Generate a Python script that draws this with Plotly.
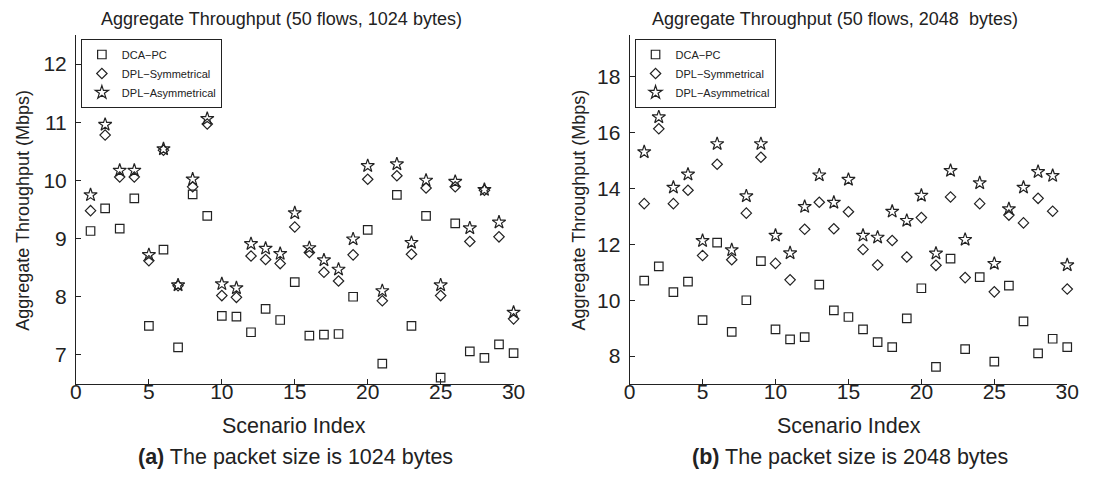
import plotly.graph_objects as go

scenarios = list(range(1, 31))

# (a) 1024 bytes
dca_1024 = [9.13, 9.52, 9.17, 9.69, 7.50, 8.81, 7.13, 9.76, 9.39, 7.67,
            7.66, 7.39, 7.79, 7.60, 8.25, 7.33, 7.35, 7.36, 8.00, 9.15,
            6.85, 9.75, 7.50, 9.39, 6.61, 9.26, 7.06, 6.95, 7.18, 7.03]
sym_1024 = [9.48, 10.78, 10.06, 10.06, 8.62, 10.52, 8.19, 9.89, 10.97, 8.02,
            7.99, 8.70, 8.64, 8.57, 9.20, 8.76, 8.42, 8.27, 8.72, 10.02,
            7.93, 10.08, 8.73, 9.87, 8.02, 9.89, 8.95, 9.83, 9.03, 7.62]
asym_1024 = [9.75, 10.96, 10.17, 10.17, 8.72, 10.54, 8.20, 10.02, 11.06, 8.22,
             8.15, 8.91, 8.83, 8.74, 9.44, 8.84, 8.63, 8.47, 8.99, 10.25,
             8.10, 10.28, 8.93, 10.00, 8.20, 9.98, 9.18, 9.84, 9.28, 7.73]

# (b) 2048 bytes
dca_2048 = [10.70, 11.21, 10.29, 10.67, 9.29, 12.06, 8.87, 10.00, 11.40, 8.96,
            8.60, 8.68, 10.56, 9.64, 9.40, 8.96, 8.50, 8.32, 9.35, 10.43,
            7.61, 11.49, 8.25, 10.83, 7.80, 10.52, 9.24, 8.10, 8.62, 8.32]
sym_2048 = [13.46, 16.14, 13.46, 13.94, 11.60, 14.87, 11.45, 13.12, 15.12, 11.32,
            10.73, 12.54, 13.51, 12.56, 13.17, 11.82, 11.26, 12.14, 11.55, 12.96,
            11.25, 13.70, 10.81, 13.46, 10.30, 13.05, 12.77, 13.65, 13.19, 10.40]
asym_2048 = [15.31, 16.56, 14.04, 14.51, 12.13, 15.60, 11.80, 13.73, 15.60, 12.32,
             11.69, 13.35, 14.48, 13.50, 14.32, 12.32, 12.25, 13.18, 12.85, 13.75,
             11.68, 14.64, 12.17, 14.20, 11.31, 13.27, 14.04, 14.60, 14.46, 11.26]

series_names = ["DCA\u2212PC", "DPL\u2212Symmetrical", "DPL\u2212Asymmetrical"]
titles = ["Aggregate Throughput (50 flows, 1024 bytes)",
          "Aggregate Throughput (50 flows, 2048  bytes)"]
captions = ["<b>(a)</b> The packet size is 1024 bytes",
            "<b>(b)</b> The packet size is 2048 bytes"]

INK = "#222222"
FONT = "Liberation Sans, Arial, sans-serif"
OFF = 8                      # default page body margin
W, H = 1094 - OFF, 479 - OFF
symbols = ["square-open", "diamond-open", "star-open"]
sizes = [8.5, 8, 10]

fig = go.Figure()
panels = [
    ([dca_1024, sym_1024, asym_1024], "x", "y", "legend"),
    ([dca_2048, sym_2048, asym_2048], "x2", "y2", "legend2"),
]
for vals, xa, ya, lg in panels:
    for name, v, sym, sz in zip(series_names, vals, symbols, sizes):
        fig.add_trace(go.Scatter(
            x=scenarios, y=v, mode="markers", name=name,
            xaxis=xa, yaxis=ya, legend=lg, cliponaxis=False,
            marker=dict(symbol=sym, size=sz, color=INK,
                        line=dict(color=INK, width=1.2)),
        ))


def px_x(p):
    return (p - OFF) / W


def px_y(p):
    return 1 - (p - OFF) / H


axis_common = dict(showgrid=False, zeroline=False, showline=True,
                   linecolor=INK, linewidth=1, ticks="inside", ticklen=5,
                   tickcolor=INK, tickfont=dict(size=21, color=INK, family=FONT),
                   mirror=False)

dom_y = [px_y(384), px_y(35)]
legend_common = dict(xanchor="left", yanchor="top", bgcolor="white",
                     bordercolor=INK, borderwidth=1,
                     font=dict(size=11, color=INK, family=FONT),
                     tracegroupgap=0, itemwidth=30)
fig.update_layout(
    width=W, height=H,
    margin=dict(l=0, r=0, t=0, b=0),
    paper_bgcolor="white", plot_bgcolor="white",
    font=dict(family=FONT, color=INK),
    xaxis=dict(domain=[px_x(71), px_x(516)], range=[0, 30], tick0=0, dtick=5,
               anchor="y", ticklabelstandoff=-11, **axis_common),
    yaxis=dict(domain=dom_y, range=[6.5, 12.5], tick0=7, dtick=1,
               anchor="x", ticklabelstandoff=4, **axis_common),
    xaxis2=dict(domain=[px_x(634), px_x(1079)], range=[0, 30], tick0=0, dtick=5,
                anchor="y2", ticklabelstandoff=-11, **axis_common),
    yaxis2=dict(domain=dom_y, range=[7, 19.5], tick0=8, dtick=2,
                anchor="x2", ticklabelstandoff=4, **axis_common),
    legend=dict(x=px_x(76), y=px_y(39), **legend_common),
    legend2=dict(x=px_x(639), y=px_y(39), **legend_common),
)

annots = []
for i, (cx_title, cx_axis, ylab_x) in enumerate([(280, 293, 17), (843, 857, 583)]):
    annots.append(dict(text=titles[i], x=px_x(cx_title), y=px_y(OFF),
                       xref="paper", yref="paper", showarrow=False,
                       xanchor="center", yanchor="top", borderpad=0,
                       font=dict(size=18, color=INK, family=FONT)))
    annots.append(dict(text="Scenario Index", x=px_x(cx_axis), y=px_y(426),
                       xref="paper", yref="paper", showarrow=False,
                       xanchor="center", yanchor="middle",
                       font=dict(size=21.5, color=INK, family=FONT)))
    annots.append(dict(text="Aggregate Throughput (Mbps)", x=px_x(ylab_x), y=px_y(210),
                       xref="paper", yref="paper", showarrow=False, textangle=-90,
                       xanchor="center", yanchor="middle",
                       font=dict(size=18, color=INK, family=FONT)))
    annots.append(dict(text=captions[i], x=px_x(cx_axis + 1), y=px_y(457),
                       xref="paper", yref="paper", showarrow=False,
                       xanchor="center", yanchor="middle",
                       font=dict(size=21.5, color=INK, family=FONT)))
fig.update_layout(annotations=annots)

fig.write_html("out.html")
